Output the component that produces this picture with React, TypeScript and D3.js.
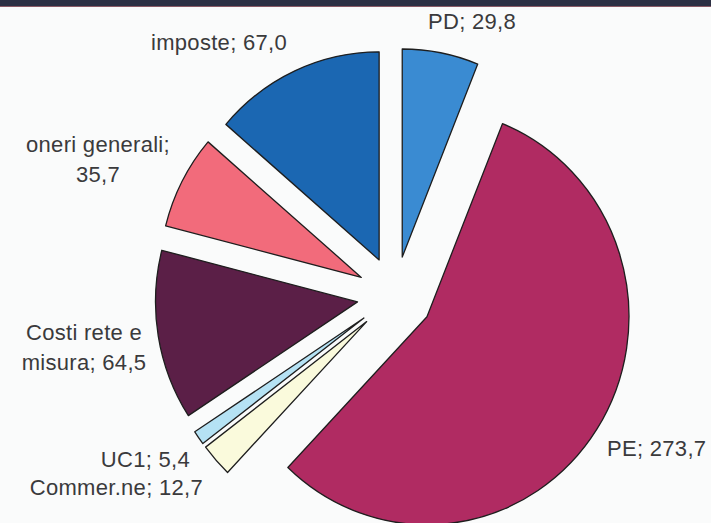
import React from "react";
import * as d3 from "d3";

const categories = ["PD", "PE", "Commer.ne", "UC1", "Costi rete e misura", "oneri generali", "imposte"];
const values = [29.8, 273.7, 12.7, 5.4, 64.5, 35.7, 67.0];
const valueLabels = ["29,8", "273,7", "12,7", "5,4", "64,5", "35,7", "67,0"];
const colors = ["#3a8bd2", "#b02b62", "#fafadc", "#b5e2f4", "#5b1f47", "#f26b7b", "#1b67b2"];

const W = 711;
const H = 523;
const CX = 395;
const CY = 295.5;
const R = 202;
const EXPLODE = 38;
const YSCALE = 1.03;

type Lbl = { lines: string[]; x: number; y: number; anchor: string };
const labels: Lbl[] = [
  { lines: [`${categories[0]}; ${valueLabels[0]}`], x: 428, y: 29, anchor: "start" },
  { lines: [`${categories[1]}; ${valueLabels[1]}`], x: 607, y: 456, anchor: "start" },
  { lines: [`${categories[2]}; ${valueLabels[2]}`], x: 203, y: 495, anchor: "end" },
  { lines: [`${categories[3]}; ${valueLabels[3]}`], x: 190, y: 467, anchor: "end" },
  { lines: ["Costi rete e", `misura; ${valueLabels[4]}`], x: 84, y: 340, anchor: "middle" },
  { lines: [`${categories[5]};`, valueLabels[5]], x: 98, y: 152, anchor: "middle" },
  { lines: [`${categories[6]}; ${valueLabels[6]}`], x: 151, y: 50, anchor: "start" },
];

export default function App() {
  const pie = d3.pie<number>().sort(null).startAngle(0).endAngle(2 * Math.PI);
  const arcs = pie(values);
  const arcGen = d3.arc<d3.PieArcDatum<number>>().innerRadius(0).outerRadius(R);

  return (
    <svg
      width={W}
      height={H}
      style={{ position: "absolute", left: 0, top: 0, display: "block" }}
      fontFamily="'Liberation Sans', Arial, sans-serif"
    >
      <rect x={0} y={0} width={W} height={H} fill="#fafbfb" />
      <rect x={0} y={0} width={W} height={6} fill="#2c3044" />
      <rect x={0} y={6} width={W} height={1} fill="#8a5a66" />
      <g transform={`translate(${CX},${CY}) scale(1,${YSCALE})`}>
        {arcs.map((a, i) => {
          const mid = (a.startAngle + a.endAngle) / 2;
          const dx = Math.sin(mid) * EXPLODE;
          const dy = -Math.cos(mid) * EXPLODE;
          return (
            <path
              key={i}
              d={arcGen(a) || ""}
              transform={`translate(${dx},${dy})`}
              fill={colors[i]}
              stroke="#1e1e1e"
              strokeWidth={1.3}
              strokeLinejoin="round"
            />
          );
        })}
      </g>
      {labels.map((l, i) => (
        <text key={i} x={l.x} y={l.y} textAnchor={l.anchor} fontSize={22} letterSpacing={0.3} fill="#3a3a3c">
          {l.lines.map((s, j) => (
            <tspan key={j} x={l.x} dy={j === 0 ? 0 : 30}>
              {s}
            </tspan>
          ))}
        </text>
      ))}
    </svg>
  );
}
